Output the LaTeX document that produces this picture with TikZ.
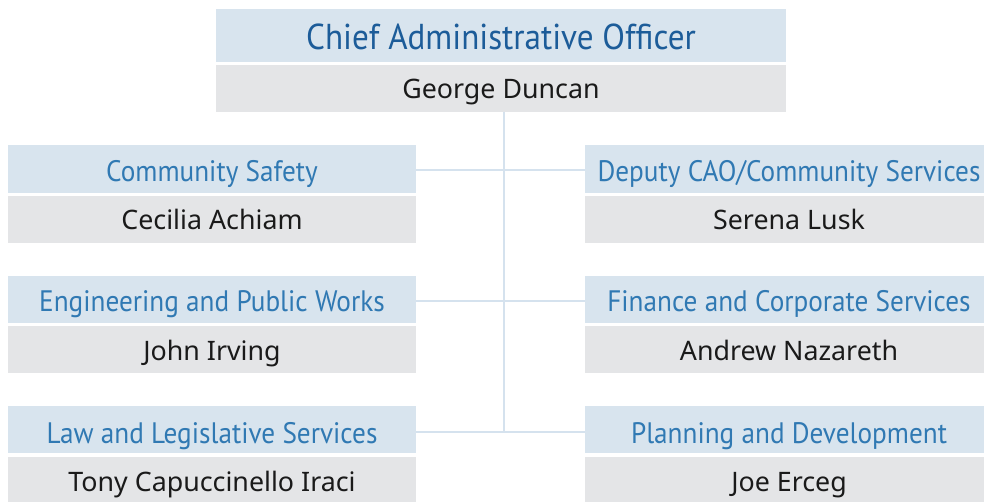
\documentclass[tikz,border=0pt]{standalone}
\usepackage{fontspec}
\newfontfamily\titlefont[FakeStretch=0.92]{PT Sans}
\newfontfamily\namefont{Noto Sans}
\definecolor{bandblue}{HTML}{D8E4EE}
\definecolor{bandgray}{HTML}{E4E5E7}
\definecolor{linkblue}{HTML}{D5E2EE}
\definecolor{caoblue}{HTML}{1C5C99}
\definecolor{headblue}{HTML}{3079B3}
\definecolor{nameink}{HTML}{1A1A1A}
\tikzset{
  tband/.style={rectangle, fill=bandblue, inner sep=0pt, outer sep=0pt},
  nband/.style={rectangle, fill=bandgray, inner sep=0pt, outer sep=0pt},
  caotext/.style={anchor=base, inner sep=0pt, text=caoblue, font=\titlefont\fontsize{36}{38}\selectfont},
  headtext/.style={anchor=base, inner sep=0pt, text=headblue, font=\titlefont\fontsize{29.6}{32}\selectfont},
  nametext/.style={anchor=base, inner sep=0pt, text=nameink, font=\namefont\fontsize{26.8}{28}\selectfont},
  conn/.style={draw=linkblue, line width=2.4pt}
}
\begin{document}
\begin{tikzpicture}[x=1pt,y=-1pt]
\useasboundingbox (0,0) rectangle (984,502);
% top box
\node[tband, minimum width=570pt, minimum height=53pt] (caot) at (501,35.5) {};
\node[nband, minimum width=570pt, minimum height=47pt] (caon) at (501,88.5) {};
\node[caotext] (caotl) at (501,50) {Chief Administrative Officer};
\node[nametext] (caonl) at (501,99) {George Duncan};
% left column
\node[tband, minimum width=408pt, minimum height=48pt] (t1l) at (212,169) {};
\node[nband, minimum width=408pt, minimum height=47pt] (n1l) at (212,219.5) {};
\node[tband, minimum width=408pt, minimum height=47pt] (t2l) at (212,299.5) {};
\node[nband, minimum width=408pt, minimum height=47pt] (n2l) at (212,349.5) {};
\node[tband, minimum width=408pt, minimum height=47pt] (t3l) at (212,429.5) {};
\node[nband, minimum width=408pt, minimum height=46pt] (n3l) at (212,480) {};
% right column
\node[tband, minimum width=400pt, minimum height=48pt] (t1r) at (785,169) {};
\node[nband, minimum width=400pt, minimum height=47pt] (n1r) at (785,219.5) {};
\node[tband, minimum width=400pt, minimum height=47pt] (t2r) at (785,299.5) {};
\node[nband, minimum width=400pt, minimum height=47pt] (n2r) at (785,349.5) {};
\node[tband, minimum width=400pt, minimum height=47pt] (t3r) at (785,429.5) {};
\node[nband, minimum width=400pt, minimum height=46pt] (n3r) at (785,480) {};
% labels
\node[headtext] (t1ll) at (212,182) {Community Safety};
\node[nametext] (n1ll) at (212,230) {Cecilia Achiam};
\node[headtext] (t2ll) at (212,312) {Engineering and Public Works};
\node[nametext] (n2ll) at (212,360) {John Irving};
\node[headtext] (t3ll) at (212,443) {Law and Legislative Services};
\node[nametext] (n3ll) at (212,491) {Tony Capuccinello Iraci};
\node[headtext] (t1rl) at (789,182) {Deputy CAO/Community Services};
\node[nametext] (n1rl) at (789,230) {Serena Lusk};
\node[headtext] (t2rl) at (789,312) {Finance and Corporate Services};
\node[nametext] (n2rl) at (789,360) {Andrew Nazareth};
\node[headtext] (t3rl) at (789,443) {Planning and Development};
\node[nametext] (n3rl) at (789,491) {Joe Erceg};
% connectors
\coordinate (spine) at (504,432);
\draw[conn] (caon.south -| spine) -- (spine);
\draw[conn] (t1l.east |- 0,170) -- (t1r.west |- 0,170);
\draw[conn] (t2l.east |- 0,301) -- (t2r.west |- 0,301);
\draw[conn] (t3l.east |- spine) -- (t3r.west |- spine);
\end{tikzpicture}
\end{document}
